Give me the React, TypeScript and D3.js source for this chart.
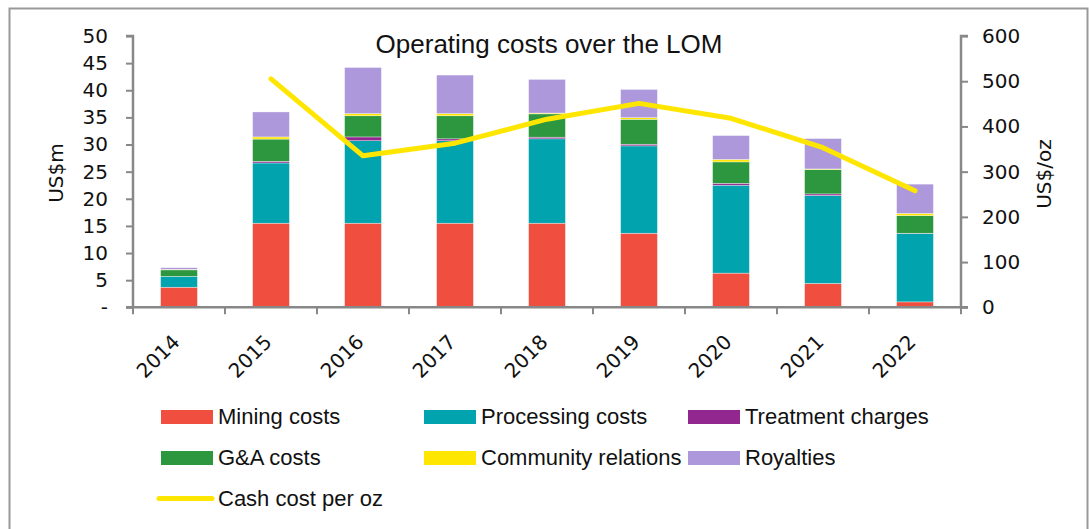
import { useEffect, useRef } from "react";
import * as d3 from "d3";

// data
const years = ["2014", "2015", "2016", "2017", "2018", "2019", "2020", "2021", "2022"];
const mining = [3.7, 15.5, 15.5, 15.5, 15.5, 13.65, 6.3, 4.4, 1.0];
const processing = [2.0, 11.1, 15.2, 15.2, 15.55, 16.1, 16.2, 16.2, 12.6];
const treatment = [0.0, 0.3, 0.7, 0.35, 0.3, 0.3, 0.35, 0.3, 0.05];
const gna = [1.2, 4.1, 3.9, 4.25, 4.3, 4.6, 3.95, 4.5, 3.25];
const community = [0.1, 0.4, 0.4, 0.4, 0.15, 0.3, 0.45, 0.1, 0.4];
const royalties = [0.3, 4.6, 8.5, 7.1, 6.2, 5.2, 4.4, 5.6, 5.4];
const cashCost = [null, 505, 335, 363, 416, 451, 418, 353, 258];

const leftTicks = [0, 5, 10, 15, 20, 25, 30, 35, 40, 45, 50];
const rightTicks = [0, 100, 200, 300, 400, 500, 600];

const seriesNames = ["Mining costs", "Processing costs", "Treatment charges", "G&A costs", "Community relations", "Royalties"];
const seriesColors = ["#F04E3E", "#00A3AE", "#91278F", "#2C973E", "#FFE600", "#AC98DB"];
const lineColor = "#FFE600";

const W = 1089;
const H = 529;
const axisColor = "#888";
const tickFont = "'DejaVu Sans', Verdana, sans-serif";
const labelFont = "'Liberation Sans', Arial, sans-serif";

export default function App() {
  const ref = useRef<SVGSVGElement | null>(null);

  useEffect(() => {
    const svg = d3.select(ref.current);
    svg.selectAll("*").remove();

    const left = 133, right = 961, top = 36, bottom = 307.3;

    const x = d3.scaleBand().domain(years).range([left, right]).paddingInner(0.6).paddingOuter(0.3);
    const yL = d3.scaleLinear().domain([0, 50]).range([bottom, top]);
    const yR = d3.scaleLinear().domain([0, 600]).range([bottom, top]);

    // frame
    svg.append("rect").attr("x", 9.5).attr("y", 8.5).attr("width", 1078).attr("height", 540)
      .attr("fill", "none").attr("stroke", "#999").attr("stroke-width", 2);

    // stacked bars
    const table = years.map((yr, i) => ({
      year: yr,
      s0: mining[i], s1: processing[i], s2: treatment[i], s3: gna[i], s4: community[i], s5: royalties[i],
    }));
    const keys = ["s0", "s1", "s2", "s3", "s4", "s5"];
    const stacked = d3.stack<any>().keys(keys)(table);

    svg.append("g").selectAll("g").data(stacked).join("g")
      .attr("fill", (_d, i) => seriesColors[i])
      .selectAll("rect").data((d) => d).join("rect")
      .attr("x", (d: any) => x(d.data.year)!)
      .attr("width", x.bandwidth())
      .attr("y", (d) => yL(d[1]))
      .attr("height", (d) => Math.max(0, yL(d[0]) - yL(d[1])))
      .attr("stroke", "#fff").attr("stroke-opacity", 0.6).attr("stroke-width", 0.6);

    // axes
    const gL = svg.append("g").attr("transform", `translate(${left},0)`)
      .call(d3.axisLeft(yL).tickValues(leftTicks).tickSize(7).tickPadding(18)
        .tickFormat((d) => (d === 0 ? "-" : String(d))));
    const gR = svg.append("g").attr("transform", `translate(${right},0)`)
      .call(d3.axisRight(yR).tickValues(rightTicks).tickSize(7).tickPadding(14));
    const gX = svg.append("g").attr("transform", `translate(0,${bottom})`)
      .call(d3.axisBottom(x).tickSize(0).tickFormat((d) => d));

    [gL, gR, gX].forEach((g) => {
      g.select(".domain").attr("stroke", axisColor).attr("stroke-width", 2.5);
      g.selectAll(".tick line").attr("stroke", axisColor).attr("stroke-width", 2);
      g.selectAll("text").attr("font-family", tickFont).attr("font-size", 20).attr("fill", "#111");
    });
    gL.select(".domain").attr("d", `M-7,${top}H0V${bottom}H-7`);
    gR.select(".domain").attr("d", `M7,${top}H0V${bottom}H7`);
    gX.select(".domain").attr("d", `M${left},0H${right}`);

    // category boundary ticks on x
    const bounds = d3.range(years.length + 1).map((i) => left + i * x.step());
    gX.append("g").selectAll("line").data(bounds).join("line")
      .attr("x1", (d) => d).attr("x2", (d) => d).attr("y1", 0).attr("y2", 7)
      .attr("stroke", axisColor).attr("stroke-width", 2);

    gX.selectAll(".tick text")
      .attr("text-anchor", "end")
      .attr("dy", null)
      .attr("y", null)
      .attr("transform", "translate(2,36) rotate(-45)");

    // cash cost line
    const line = d3.line<number | null>()
      .defined((d) => d != null)
      .x((_d, i) => x(years[i])! + x.bandwidth() / 2)
      .y((d) => yR(d as number));
    svg.append("path").datum(cashCost).attr("d", line)
      .attr("fill", "none").attr("stroke", lineColor).attr("stroke-width", 5)
      .attr("stroke-linecap", "round").attr("stroke-linejoin", "round");

    // titles
    svg.append("text").attr("x", 549).attr("y", 53).attr("text-anchor", "middle")
      .attr("font-family", labelFont).attr("font-size", 26).attr("fill", "#111")
      .text("Operating costs over the LOM");
    svg.append("text").attr("transform", "translate(63,173) rotate(-90)").attr("text-anchor", "middle")
      .attr("font-family", tickFont).attr("font-size", 20).attr("fill", "#111").text("US$m");
    svg.append("text").attr("transform", "translate(1051,174) rotate(-90)").attr("text-anchor", "middle")
      .attr("font-family", tickFont).attr("font-size", 20).attr("fill", "#111").text("US$/oz");

    // legend
    const colX = [161, 424, 688];
    const rowY = [410, 451];
    const leg = svg.append("g");
    seriesNames.forEach((name, i) => {
      const cx = colX[i % 3];
      const cy = rowY[Math.floor(i / 3)];
      leg.append("rect").attr("x", cx).attr("y", cy).attr("width", 52).attr("height", 14).attr("fill", seriesColors[i]);
      leg.append("text").attr("x", cx + 57).attr("y", cy + 14)
        .attr("font-family", labelFont).attr("font-size", 22).attr("fill", "#111").text(name);
    });
    leg.append("line").attr("x1", 159).attr("x2", 212).attr("y1", 498.5).attr("y2", 498.5)
      .attr("stroke", lineColor).attr("stroke-width", 5).attr("stroke-linecap", "round");
    leg.append("text").attr("x", 218).attr("y", 505.5)
      .attr("font-family", labelFont).attr("font-size", 22).attr("fill", "#111").text("Cash cost per oz");
  }, []);

  return (
    <div style={{ position: "absolute", left: 0, top: 0 }}>
      <svg ref={ref} width={W} height={H} style={{ display: "block", background: "#fff" }} />
    </div>
  );
}
